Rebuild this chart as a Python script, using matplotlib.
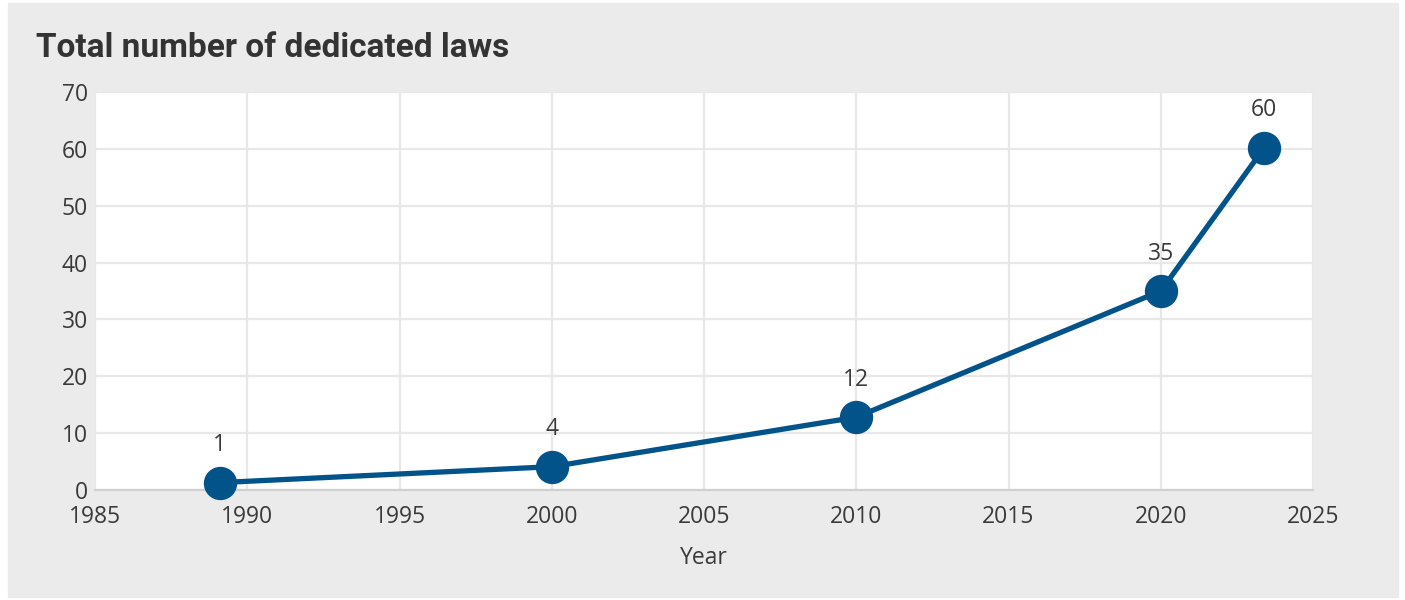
import matplotlib
matplotlib.use("Agg")
from matplotlib import pyplot as plt
from matplotlib.patches import Rectangle

# data
years = [1989.1, 2000, 2010, 2020, 2023.4]
laws = [1.3, 4.1, 12.8, 35, 60.2]
point_labels = ["1", "4", "12", "35", "60"]

x_ticks = [1985, 1990, 1995, 2000, 2005, 2010, 2015, 2020, 2025]
y_ticks = [0, 10, 20, 30, 40, 50, 60, 70]

blue = "#02538a"
text_col = "#3a3a3a"
plt.rcParams['font.family'] = ['Open Sans', 'DejaVu Sans']

fig = plt.figure(figsize=(14.05, 6), dpi=100)
fig.patch.set_facecolor("white")
# grey panel behind everything
fig.patches.append(Rectangle((8 / 1405, 3 / 600), 1390 / 1405, 594 / 600,
                             transform=fig.transFigure, color="#ebebeb", zorder=-5))

ax = fig.add_axes([95 / 1405, 1 - 490 / 600, 1218 / 1405, 398 / 600])
ax.set_facecolor("white")
ax.set_zorder(1)

ax.plot(years, laws, color=blue, linewidth=3.8, marker="o", markersize=23,
        zorder=3, clip_on=False)
for x, y, lab in zip(years, laws, point_labels):
    ax.annotate(lab, (x, y), xytext=(0, 27), textcoords="offset points",
                ha="center", va="center", fontsize=16.5, color=text_col)

ax.set_xlim(1985, 2025)
ax.set_ylim(0, 70)
ax.set_xticks(x_ticks)
ax.set_yticks(y_ticks)
ax.grid(True, color="#e8e8e8", linewidth=1.6, zorder=0)
ax.set_axisbelow(True)
ax.tick_params(length=0, labelsize=16.5, labelcolor=text_col)
ax.tick_params(axis="x", pad=11)
ax.tick_params(axis="y", pad=5)
for s in ["top", "right", "left"]:
    ax.spines[s].set_visible(False)
ax.spines["bottom"].set_color("#d0d0d0")
ax.spines["bottom"].set_linewidth(1.6)

ax.set_xlabel("Year", fontsize=16.5, color=text_col, labelpad=12)

fig.text(36 / 1405, 1 - 48 / 600, "Total number of dedicated laws",
         fontsize=24, fontweight="bold", color="#333333", va="center",
         family=["Roboto", "DejaVu Sans"])

fig.savefig("out.png", dpi=100)
